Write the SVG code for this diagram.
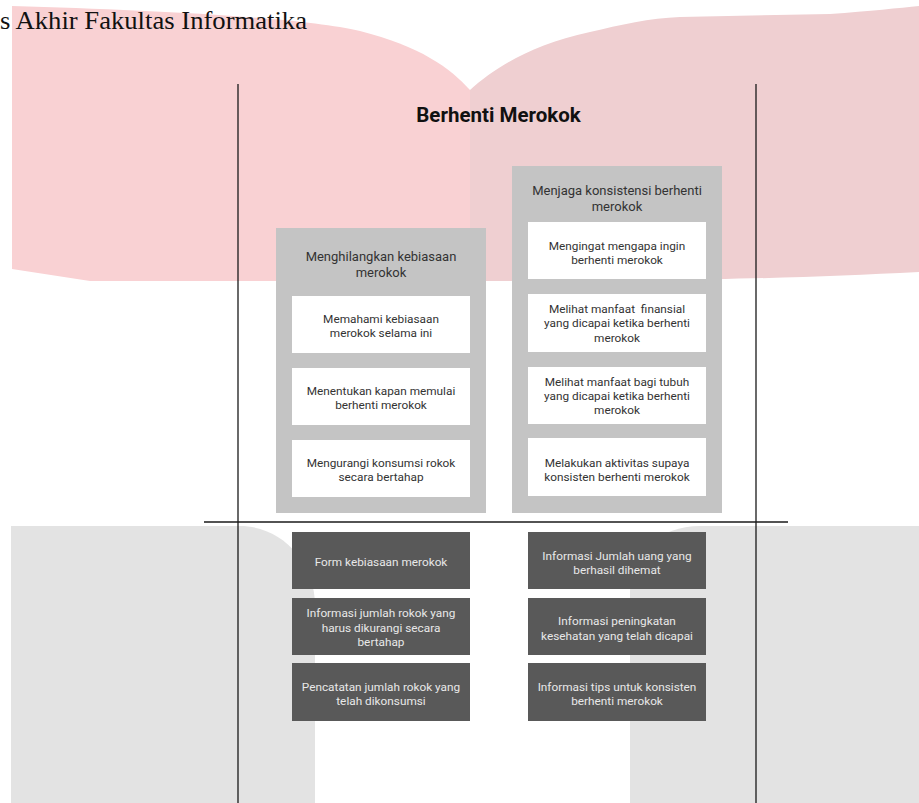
<svg xmlns="http://www.w3.org/2000/svg" width="919" height="803" viewBox="0 0 919 803">
<style>
.panel{fill:#c4c4c4}
.card{fill:#ffffff}
.dark{fill:#595959}
.t{font-family:Roboto,"Liberation Sans",sans-serif;font-size:11.8px;fill:#333333;text-anchor:middle}
.td{font-family:Roboto,"Liberation Sans",sans-serif;font-size:11.8px;fill:#e8e8e8;text-anchor:middle}
.pt{font-family:Roboto,"Liberation Sans",sans-serif;font-size:13px;fill:#333333;text-anchor:middle}
.ln{stroke:#1a1a1a;stroke-width:1.3;fill:none}
</style>
<rect width="919" height="803" fill="#ffffff"/>
<g id="background">
<path d="M12,6 C150,10 300,17 360,31 C420,46 450,68 470,90 L470,281 L90,281 L12,269 Z" fill="#f9d1d3"/>
<path d="M470,90 C495,68 530,45 590,32 C620,25 650,18 680,17 L830,14 C870,11 900,8 919,6 L919,272 C800,278 700,281 470,281 Z" fill="#efcfd1"/>
<path d="M11,526 L240,526 C280,526 315,560 315,606 L315,803 L11,803 Z" fill="#e3e3e3"/>
<path d="M630,803 L630,592 C630,552 660,526 700,526 L919,526 L919,803 Z" fill="#e3e3e3"/>
</g>
<text x="0" y="29" font-family="'Liberation Serif','Times New Roman',serif" font-size="25" fill="#111111" textLength="307" lengthAdjust="spacingAndGlyphs">s Akhir Fakultas Informatika</text>
<g id="connectors">
<line class="ln" x1="238" y1="84" x2="238" y2="803" stroke="#3a3a3a"/>
<line class="ln" x1="756" y1="84" x2="756" y2="803"/>
<line class="ln" x1="204" y1="522" x2="788" y2="522"/>
</g>
<g id="title">
<text x="498.5" y="122" font-family="Roboto,'Liberation Sans',sans-serif" font-size="20.5" font-weight="bold" fill="#111111" text-anchor="middle">Berhenti Merokok</text>
</g>
<g id="panel-left">
<rect class="panel" x="276" y="228" width="210" height="285"/>
<text class="pt" x="381" y="261">Menghilangkan kebiasaan</text>
<text class="pt" x="381" y="276.5">merokok</text>
</g>
<g id="l1"><rect class="card" x="292" y="296" width="178" height="57"/><text class="t" x="381" y="323">Memahami kebiasaan</text><text class="t" x="381" y="337">merokok selama ini</text></g>
<g id="l2"><rect class="card" x="292" y="368" width="178" height="57"/><text class="t" x="381" y="395">Menentukan kapan memulai</text><text class="t" x="381" y="409">berhenti merokok</text></g>
<g id="l3"><rect class="card" x="292" y="440" width="178" height="57"/><text class="t" x="381" y="467">Mengurangi konsumsi rokok</text><text class="t" x="381" y="481">secara bertahap</text></g>
<g id="panel-right">
<rect class="panel" x="512" y="166" width="210" height="347"/>
<text class="pt" x="617" y="195">Menjaga konsistensi berhenti</text>
<text class="pt" x="617" y="210.5">merokok</text>
</g>
<g id="r1"><rect class="card" x="528" y="222" width="178" height="57"/><text class="t" x="617" y="250">Mengingat mengapa ingin</text><text class="t" x="617" y="263.5">berhenti merokok</text></g>
<g id="r2"><rect class="card" x="528" y="294" width="178" height="58"/><text class="t" x="617" y="312.5" xml:space="preserve">Melihat manfaat  finansial</text><text class="t" x="617" y="327">yang dicapai ketika berhenti</text><text class="t" x="617" y="341.5">merokok</text></g>
<g id="r3"><rect class="card" x="528" y="367" width="178" height="57"/><text class="t" x="617" y="386">Melihat manfaat bagi tubuh</text><text class="t" x="617" y="400">yang dicapai ketika berhenti</text><text class="t" x="617" y="414">merokok</text></g>
<g id="r4"><rect class="card" x="528" y="438" width="178" height="58"/><text class="t" x="617" y="467">Melakukan aktivitas supaya</text><text class="t" x="617" y="480.5">konsisten berhenti merokok</text></g>
<g id="d1"><rect class="dark" x="292" y="532" width="178" height="57"/><text class="td" x="381" y="566">Form kebiasaan merokok</text></g>
<g id="d2"><rect class="dark" x="292" y="598" width="178" height="57"/><text class="td" x="381" y="617">Informasi jumlah rokok yang</text><text class="td" x="381" y="631.5">harus dikurangi secara</text><text class="td" x="381" y="646">bertahap</text></g>
<g id="d3"><rect class="dark" x="292" y="663" width="178" height="58"/><text class="td" x="381" y="690.5">Pencatatan jumlah rokok yang</text><text class="td" x="381" y="705">telah dikonsumsi</text></g>
<g id="d4"><rect class="dark" x="528" y="532" width="178" height="57"/><text class="td" x="617" y="559.5">Informasi Jumlah uang yang</text><text class="td" x="617" y="573.5">berhasil dihemat</text></g>
<g id="d5"><rect class="dark" x="528" y="598" width="178" height="57"/><text class="td" x="617" y="625">Informasi peningkatan</text><text class="td" x="617" y="639.5">kesehatan yang telah dicapai</text></g>
<g id="d6"><rect class="dark" x="528" y="663" width="178" height="58"/><text class="td" x="617" y="690.5">Informasi tips untuk konsisten</text><text class="td" x="617" y="705">berhenti merokok</text></g>
</svg>
